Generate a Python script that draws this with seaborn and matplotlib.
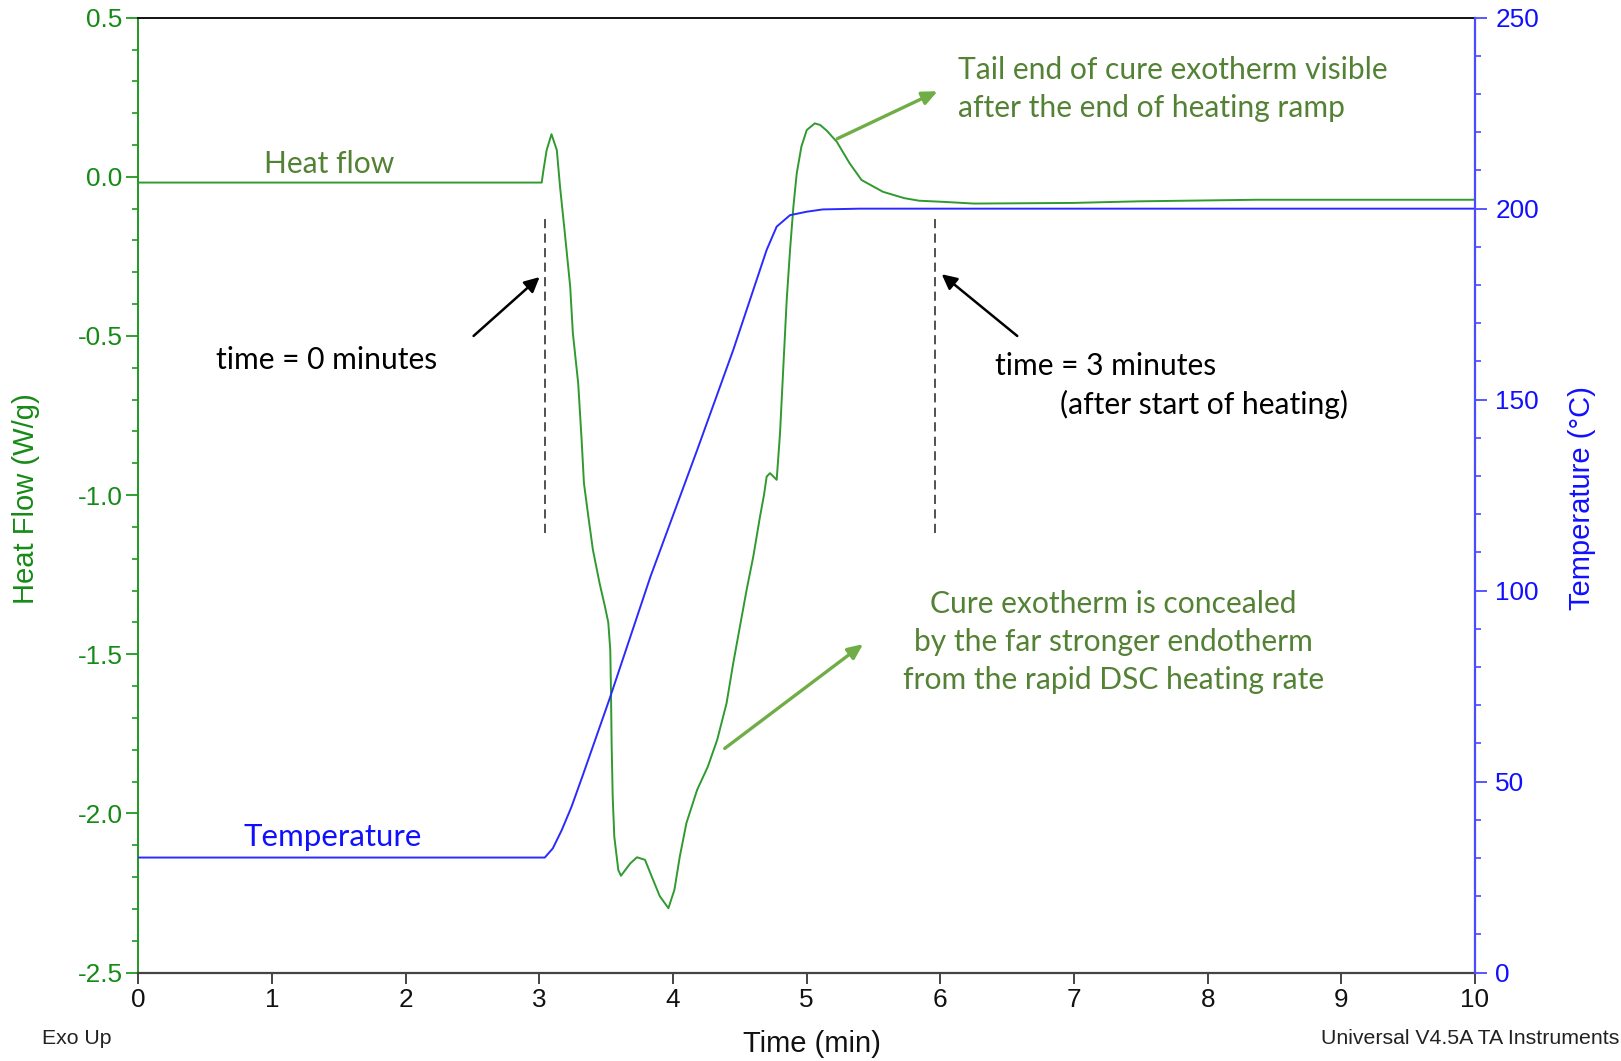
import matplotlib
matplotlib.use("Agg")
import matplotlib.pyplot as plt
from matplotlib.ticker import MultipleLocator
import seaborn as sns
import pandas as pd

# ---------------- data ----------------
hf_time = [0.0, 3.017, 3.03, 3.054, 3.09, 3.13, 3.154, 3.19, 3.23, 3.25, 3.29, 3.316,
           3.333, 3.366, 3.40, 3.45, 3.49, 3.515, 3.53, 3.535, 3.54, 3.548, 3.56, 3.59,
           3.61, 3.68, 3.73, 3.79, 3.83, 3.90, 3.965, 4.01, 4.05, 4.10, 4.18, 4.26, 4.33,
           4.40, 4.45, 4.50, 4.55, 4.60, 4.65, 4.68, 4.70, 4.725, 4.775, 4.80, 4.825, 4.85,
           4.875, 4.90, 4.925, 4.96, 5.00, 5.06, 5.10, 5.15, 5.225, 5.32, 5.41, 5.57, 5.73,
           5.84, 6.04, 6.25, 6.99, 7.48, 8.37, 10.0]
hf_vals = [-0.018, -0.018, 0.021, 0.084, 0.134, 0.084, -0.031, -0.177, -0.345, -0.491,
           -0.649, -0.83, -0.963, -1.068, -1.172, -1.277, -1.35, -1.40, -1.487, -1.612,
           -1.78, -1.947, -2.073, -2.178, -2.196, -2.157, -2.138, -2.146, -2.188, -2.26,
           -2.298, -2.24, -2.136, -2.03, -1.926, -1.853, -1.769, -1.654, -1.528, -1.413,
           -1.298, -1.193, -1.068, -1.0, -0.942, -0.931, -0.952, -0.806, -0.596, -0.387,
           -0.23, -0.094, 0.011, 0.095, 0.147, 0.168, 0.163, 0.145, 0.110, 0.043, -0.01,
           -0.047, -0.067, -0.075, -0.079, -0.084, -0.082, -0.077, -0.072, -0.072]

temp_time = [0.0, 3.04, 3.10, 3.167, 3.24, 3.33, 3.53, 3.83, 4.18, 4.45, 4.70, 4.775,
             4.875, 5.0, 5.12, 5.4, 10.0]
temp_vals = [30.1, 30.1, 32.5, 37.3, 43.4, 52.2, 72.2, 103.6, 136.8, 163.0, 189.2, 195.3,
             198.3, 199.2, 199.8, 200.0, 200.0]

x_ticks = [0, 1, 2, 3, 4, 5, 6, 7, 8, 9, 10]
hf_ticks = [-2.5, -2.0, -1.5, -1.0, -0.5, 0.0, 0.5]
temp_ticks = [0, 50, 100, 150, 200, 250]
marker_times = [3.04, 5.957]          # dashed markers: time = 0 and time = 3 minutes
marker_span = [-1.12, -0.133]

# ---------------- style ----------------
sns.set_style("white")
ANN_FONT = ["Lato", "DejaVu Sans"]
AX_FONT = ["Liberation Sans", "DejaVu Sans"]
plt.rcParams["font.family"] = AX_FONT

HF_LINE = "#2f9a2f"
HF_AXIS = "#1f9a1f"
HF_TEXT = "#168a16"
T_LINE = "#2a2aff"
T_AXIS = "#4a4aff"
T_TEXT = "#1010ff"
ANN_GREEN = "#548235"
ARROW_GREEN = "#70AD47"

fig = plt.figure(figsize=(16.21, 10.61), dpi=100)
ax = fig.add_axes([0.08544, 0.08341, 0.82449, 0.89991])
ax2 = ax.twinx()

df_hf = pd.DataFrame({"time": hf_time, "hf": hf_vals})
df_t = pd.DataFrame({"time": temp_time, "temp": temp_vals})

sns.lineplot(data=df_hf, x="time", y="hf", ax=ax, color=HF_LINE, lw=1.4,
             estimator=None, sort=False)
sns.lineplot(data=df_t, x="time", y="temp", ax=ax2, color=T_LINE, lw=1.4,
             estimator=None, sort=False)

ax.set_xlim(0, 10)
ax.set_ylim(-2.5, 0.5)
ax2.set_ylim(0, 250)
ax.set_xlabel("")
ax.set_ylabel("")
ax2.set_ylabel("")
ax.set_xticks(x_ticks)
ax.set_yticks(hf_ticks)
ax2.set_yticks(temp_ticks)
ax.set_yticklabels([f"{v:.1f}" for v in hf_ticks])
ax.yaxis.set_minor_locator(MultipleLocator(0.1))
ax2.yaxis.set_minor_locator(MultipleLocator(10))

# spines
ax.spines["right"].set_visible(False)
ax2.spines["left"].set_visible(False)
ax2.spines["bottom"].set_visible(False)
ax.spines["left"].set_color(HF_AXIS)
ax.spines["left"].set_linewidth(1.4)
ax.spines["bottom"].set_color("#444444")
ax.spines["bottom"].set_linewidth(1.6)
ax.spines["top"].set_color("#111111")
ax.spines["top"].set_linewidth(1.4)
ax2.spines["top"].set_visible(False)
ax2.spines["right"].set_color(T_AXIS)
ax2.spines["right"].set_linewidth(1.6)

TICK_FS = 18.8
ax.tick_params(axis="x", which="major", direction="out", length=8, width=1.4,
               color="#444444", labelsize=TICK_FS, labelcolor="#111111", pad=3, bottom=True)
ax.tick_params(axis="y", which="major", direction="out", length=8.5, width=1.3,
               color=HF_AXIS, labelsize=TICK_FS, labelcolor=HF_TEXT, pad=3, left=True)
ax.tick_params(axis="y", which="minor", direction="out", length=4.3, width=1.2,
               color=HF_AXIS, left=True)
ax2.tick_params(axis="y", which="major", direction="out", length=8.5, width=1.3,
                color=T_AXIS, labelsize=TICK_FS, labelcolor=T_TEXT, pad=6, right=True)
ax2.tick_params(axis="y", which="minor", direction="out", length=4.3, width=1.2,
                color=T_AXIS, right=True)
ax.grid(False)
ax2.grid(False)

# axis labels and footers (figure pixel positions)
W, H = 1621, 1061
fig.text(26 / W, 1 - 499 / H, "Heat Flow (W/g)", rotation=90, ha="center", va="center",
         color=HF_TEXT, fontsize=21, family=AX_FONT)
fig.text(1582 / W, 1 - 498 / H, "Temperature (°C)", rotation=90, ha="center", va="center",
         color=T_TEXT, fontsize=21, family=AX_FONT)
fig.text(811.5 / W, 1 - 1044 / H, "Time (min)", ha="center", va="center",
         color="#111111", fontsize=21, family=AX_FONT)
fig.text(42 / W, 1 - 1039 / H, "Exo Up", ha="left", va="center",
         color="#222222", fontsize=15.3, family=AX_FONT)
fig.text(1619 / W, 1 - 1039 / H, "Universal V4.5A TA Instruments", ha="right", va="center",
         color="#222222", fontsize=15.3, family=AX_FONT)

# dashed markers
ax.vlines(marker_times, marker_span[0], marker_span[1], colors="#222222",
          linestyles=(0, (6, 3.5)), lw=1.1)

# annotations
FS = 21.6
ax.text(1.425, 0.04, "Heat flow", color=ANN_GREEN, fontsize=FS, family=ANN_FONT,
        ha="center", va="center")
ax2.text(1.456, 35.4, "Temperature", color=T_TEXT, fontsize=22.5, family=ANN_FONT,
         ha="center", va="center")
ax.text(1.408, -0.575, "time = 0 minutes", color="black", fontsize=FS, family=ANN_FONT,
        ha="center", va="center")
ax.text(6.412, -0.594, "time = 3 minutes", color="black", fontsize=FS, family=ANN_FONT,
        ha="left", va="center")
ax.text(6.892, -0.714, "(after start of heating)", color="black", fontsize=FS,
        family=ANN_FONT, ha="left", va="center")
ax.text(6.134, 0.335, "Tail end of cure exotherm visible", color=ANN_GREEN, fontsize=FS,
        family=ANN_FONT, ha="left", va="center")
ax.text(6.134, 0.215, "after the end of heating ramp", color=ANN_GREEN, fontsize=FS,
        family=ANN_FONT, ha="left", va="center")
for yv, line in zip([-1.341, -1.461, -1.581],
                    ["Cure exotherm is concealed", "by the far stronger endotherm",
                     "from the rapid DSC heating rate"]):
    ax.text(7.295, yv, line, color=ANN_GREEN, fontsize=FS, family=ANN_FONT,
            ha="center", va="center")

black_arrow = dict(arrowstyle="-|>,head_length=0.9,head_width=0.45", color="black",
                   lw=1.8, shrinkA=0, shrinkB=0)
green_arrow = dict(arrowstyle="-|>,head_length=0.9,head_width=0.4", color=ARROW_GREEN,
                   lw=2.4, shrinkA=0, shrinkB=0)
ax.annotate("", xy=(3.001, -0.315), xytext=(2.507, -0.5), arrowprops=black_arrow)
ax.annotate("", xy=(6.01, -0.306), xytext=(6.575, -0.5), arrowprops=black_arrow)
ax.annotate("", xy=(5.979, 0.269), xytext=(5.229, 0.120), arrowprops=green_arrow)
ax.annotate("", xy=(5.422, -1.468), xytext=(4.386, -1.796), arrowprops=green_arrow)

fig.savefig("out.png", dpi=100, facecolor="white")
